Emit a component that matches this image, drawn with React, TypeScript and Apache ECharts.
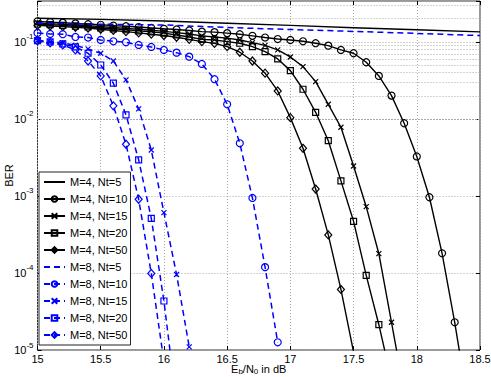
import React, { useEffect, useRef } from 'react';
import * as echarts from 'echarts';

// Eb/N0 grid (dB) used by the simulated curves
const ebn0 = [15.0, 15.1, 15.2, 15.3, 15.4, 15.5, 15.6, 15.7, 15.8, 15.9, 16.0, 16.1, 16.2, 16.3, 16.4, 16.5, 16.6, 16.7, 16.8, 16.9, 17.0, 17.1, 17.2, 17.3, 17.4, 17.5, 17.6, 17.7, 17.8, 17.9, 18.0, 18.1, 18.2, 18.3, 18.4];
const ebn0Coarse = [15.0, 15.5, 16.0, 16.5, 17.0, 17.5, 18.0, 18.5];

// M = 4
const berM4Nt5 = [0.203, 0.196, 0.187, 0.175, 0.164, 0.153, 0.144, 0.135];
const berM4Nt10 = [0.185, 0.181, 0.178, 0.174, 0.170, 0.167, 0.163, 0.160, 0.156, 0.152, 0.148, 0.145, 0.141, 0.136, 0.134, 0.130, 0.126, 0.120, 0.114, 0.109, 0.106, 0.102, 0.0962, 0.0895, 0.0787, 0.0713, 0.0545, 0.0362, 0.0201, 0.00879, 0.00326, 9.62e-4, 1.80e-4, 2.29e-5, 2.24e-6];
const berM4Nt15 = [0.177, 0.173, 0.169, 0.166, 0.162, 0.158, 0.154, 0.150, 0.146, 0.142, 0.137, 0.132, 0.127, 0.120, 0.116, 0.112, 0.106, 0.0979, 0.0901, 0.0787, 0.0638, 0.0478, 0.0305, 0.0155, 0.0078, 0.00245, 7.26e-4, 1.78e-4, 2.29e-5, 2.85e-6];
const berM4Nt20 = [0.171, 0.168, 0.164, 0.160, 0.157, 0.152, 0.148, 0.144, 0.139, 0.135, 0.130, 0.123, 0.116, 0.108, 0.106, 0.101, 0.0962, 0.0869, 0.0748, 0.0601, 0.0424, 0.0243, 0.0122, 0.00522, 0.00157, 4.69e-4, 9.33e-5, 2.13e-5, 4.07e-6];
const berM4Nt50 = [0.164, 0.161, 0.158, 0.155, 0.151, 0.146, 0.141, 0.136, 0.131, 0.126, 0.121, 0.115, 0.108, 0.101, 0.0957, 0.0869, 0.0735, 0.0566, 0.0393, 0.0231, 0.0104, 0.00416, 0.00123, 3.12e-4, 6.11e-5, 9.4e-6];

// M = 8
const berM8Nt5 = [0.175, 0.170, 0.166, 0.154, 0.145, 0.137, 0.129, 0.121];
const berM8Nt10 = [0.131, 0.127, 0.126, 0.116, 0.114, 0.106, 0.102, 0.0991, 0.0914, 0.0861, 0.0787, 0.0726, 0.0644, 0.0518, 0.0328, 0.0155, 0.00483, 9.42e-4, 1.19e-4, 1.26e-5];
const berM8Nt15 = [0.1045, 0.101, 0.0971, 0.0901, 0.0811, 0.0713, 0.0566, 0.0321, 0.0135, 0.00395, 6.07e-4, 9.57e-5, 1.10e-5];
const berM8Nt20 = [0.104, 0.100, 0.0942, 0.0861, 0.0713, 0.0502, 0.0291, 0.0113, 0.00294, 5.13e-4, 4.33e-5, 1.99e-6];
const berM8Nt50 = [0.103, 0.0971, 0.0914, 0.0787, 0.0566, 0.0362, 0.0148, 0.00469, 9.06e-4, 9.86e-5, 7.1e-6];

const seriesNames = ['M=4, Nt=5', 'M=4, Nt=10', 'M=4, Nt=15', 'M=4, Nt=20', 'M=4, Nt=50', 'M=8, Nt=5', 'M=8, Nt=10', 'M=8, Nt=15', 'M=8, Nt=20', 'M=8, Nt=50'];

const X_MIN = 15;
const X_MAX = 18.5;
const X_STEP = 0.5;
const Y_MIN = 1e-5;
const Y_MAX = 0.34;
const yDecades = [1e-5, 1e-4, 1e-3, 1e-2, 1e-1];
const minorMultipliers = [2, 3, 4, 5, 6, 7, 8, 9];

const FONT = '"Liberation Sans", Arial, Helvetica, sans-serif';
const GRID_COLOR = '#a8a8a8';
const X_SYMBOL = 'path://M0,0L10,10M10,0L0,10';

const zip = (xs: number[], ys: number[]) => ys.map((y, i) => [xs[i], y]);

function makeSeries(name: string, xs: number[], ys: number[], color: string, dashed: boolean, symbol: string | null, size: any) {
  return {
    name,
    type: 'line',
    data: zip(xs, ys),
    symbol: symbol || 'circle',
    showSymbol: !!symbol,
    showAllSymbol: true,
    symbolSize: symbol ? size : 1,
    clip: true,
    z: dashed ? 4 : 3,
    lineStyle: { color, width: dashed ? 1.5 : 1.4, type: dashed ? [6, 4] : 'solid' },
    itemStyle: { color: 'rgba(255,255,255,0)', borderColor: color, borderWidth: symbol ? 1.2 : 0 },
    emphasis: { disabled: true },
  };
}

export default function App() {
  const ref = useRef<HTMLDivElement>(null);
  useEffect(() => {
    if (!ref.current) return;
    const chart = echarts.init(ref.current, undefined, { renderer: 'svg' });
    const minorGrid: number[] = [];
    yDecades.forEach((d) => minorMultipliers.forEach((m) => { if (m * d <= Y_MAX) minorGrid.push(m * d); }));

    const black = '#000000';
    const blue = '#0000ff';
    const series: any[] = [
      makeSeries(seriesNames[0], ebn0Coarse, berM4Nt5, black, false, null, 0),
      makeSeries(seriesNames[1], ebn0, berM4Nt10, black, false, 'circle', 7),
      makeSeries(seriesNames[2], ebn0, berM4Nt15, black, false, X_SYMBOL, 5),
      makeSeries(seriesNames[3], ebn0, berM4Nt20, black, false, 'rect', 6),
      makeSeries(seriesNames[4], ebn0, berM4Nt50, black, false, 'diamond', [7, 8]),
      makeSeries(seriesNames[5], ebn0Coarse, berM8Nt5, blue, true, null, 0),
      makeSeries(seriesNames[6], ebn0, berM8Nt10, blue, true, 'circle', 7),
      makeSeries(seriesNames[7], ebn0, berM8Nt15, blue, true, X_SYMBOL, 5),
      makeSeries(seriesNames[8], ebn0, berM8Nt20, blue, true, 'rect', 6),
      makeSeries(seriesNames[9], ebn0, berM8Nt50, blue, true, 'diamond', [7, 8]),
      {
        type: 'line',
        name: '_minor',
        data: [],
        silent: true,
        z: 1,
        markLine: {
          silent: true,
          z: 1,
          symbol: ['none', 'none'],
          label: { show: false },
          lineStyle: { color: GRID_COLOR, type: [1, 2], width: 1 },
          emphasis: { disabled: true },
          data: minorGrid.map((v) => ({ yAxis: v })),
        },
      },
    ];

    const supFormatter = (v: number) => {
      const e = Math.log10(v);
      const r = Math.round(e);
      if (Math.abs(e - r) > 1e-6) return '';
      return `{b|10}{s|${r}}`;
    };

    chart.setOption({
      animation: false,
      backgroundColor: '#ffffff',
      textStyle: { fontFamily: FONT },
      grid: {
        left: 37.5, right: 11, top: 1, bottom: 27,
        containLabel: false, outerBoundsMode: 'none',
        show: true, borderColor: '#333', borderWidth: 1, backgroundColor: '#fff',
      },
      legend: {
        data: seriesNames,
        orient: 'vertical',
        left: 39,
        top: 172,
        itemWidth: 21,
        itemHeight: 7,
        itemGap: 5,
        padding: [4, 3, 4, 4],
        borderColor: '#222',
        borderWidth: 1,
        backgroundColor: '#fff',
        selectedMode: false,
        textStyle: { fontFamily: FONT, fontSize: 11, color: '#000', lineHeight: 12 },
      },
      xAxis: [
        {
          type: 'value', min: X_MIN, max: X_MAX, interval: X_STEP,
          axisLine: { show: false },
          axisTick: { inside: true, length: 4, lineStyle: { color: '#000' } },
          axisLabel: { margin: 3, fontFamily: FONT, fontSize: 11, lineHeight: 11, color: '#000' },
          splitLine: { show: true, lineStyle: { color: GRID_COLOR, type: [1, 2], width: 1 } },
          name: '{b|E}{sub|b}{b|/N}{sub|0}{b| in dB}',
          nameLocation: 'middle',
          nameGap: 13,
          nameMoveOverlap: false,
          nameTextStyle: {
            fontFamily: FONT, fontSize: 11, color: '#000',
            rich: {
              b: { fontFamily: FONT, fontSize: 11, color: '#000', lineHeight: 12 },
              sub: { fontFamily: FONT, fontSize: 8, color: '#000', lineHeight: 8, verticalAlign: 'bottom' },
            },
          },
        },
        {
          type: 'value', min: X_MIN, max: X_MAX, interval: X_STEP, position: 'top',
          axisLine: { show: false },
          axisTick: { inside: true, length: 4, lineStyle: { color: '#000' } },
          axisLabel: { show: false },
          splitLine: { show: false },
        },
      ],
      yAxis: [
        {
          type: 'log', logBase: 10, min: Y_MIN, max: Y_MAX, interval: 1,
          axisLine: { show: false },
          axisTick: { inside: true, length: 4, lineStyle: { color: '#000' } },
          axisLabel: {
            margin: 4,
            hideOverlap: false,
            formatter: supFormatter,
            rich: {
              b: { fontFamily: FONT, fontSize: 11, color: '#000', lineHeight: 18 },
              s: { fontFamily: FONT, fontSize: 8, color: '#000', lineHeight: 8, verticalAlign: 'top' },
            },
          },
          splitLine: { show: true, lineStyle: { color: GRID_COLOR, type: [1, 2], width: 1 } },
          name: 'BER',
          nameLocation: 'middle',
          nameGap: 23,
          nameMoveOverlap: false,
          nameTextStyle: { fontFamily: FONT, fontSize: 11, color: '#000' },
        },
        {
          type: 'log', logBase: 10, min: Y_MIN, max: Y_MAX, interval: 1, position: 'right',
          axisLine: { show: false },
          axisTick: { inside: true, length: 4, lineStyle: { color: '#000' } },
          axisLabel: { show: false },
          splitLine: { show: false },
        },
      ],
      series,
    });
    return () => chart.dispose();
  }, []);

  return (
    <div
      ref={ref}
      style={{ position: 'fixed', left: 0, top: 0, width: 491, height: 377, background: '#fff' }}
    />
  );
}
